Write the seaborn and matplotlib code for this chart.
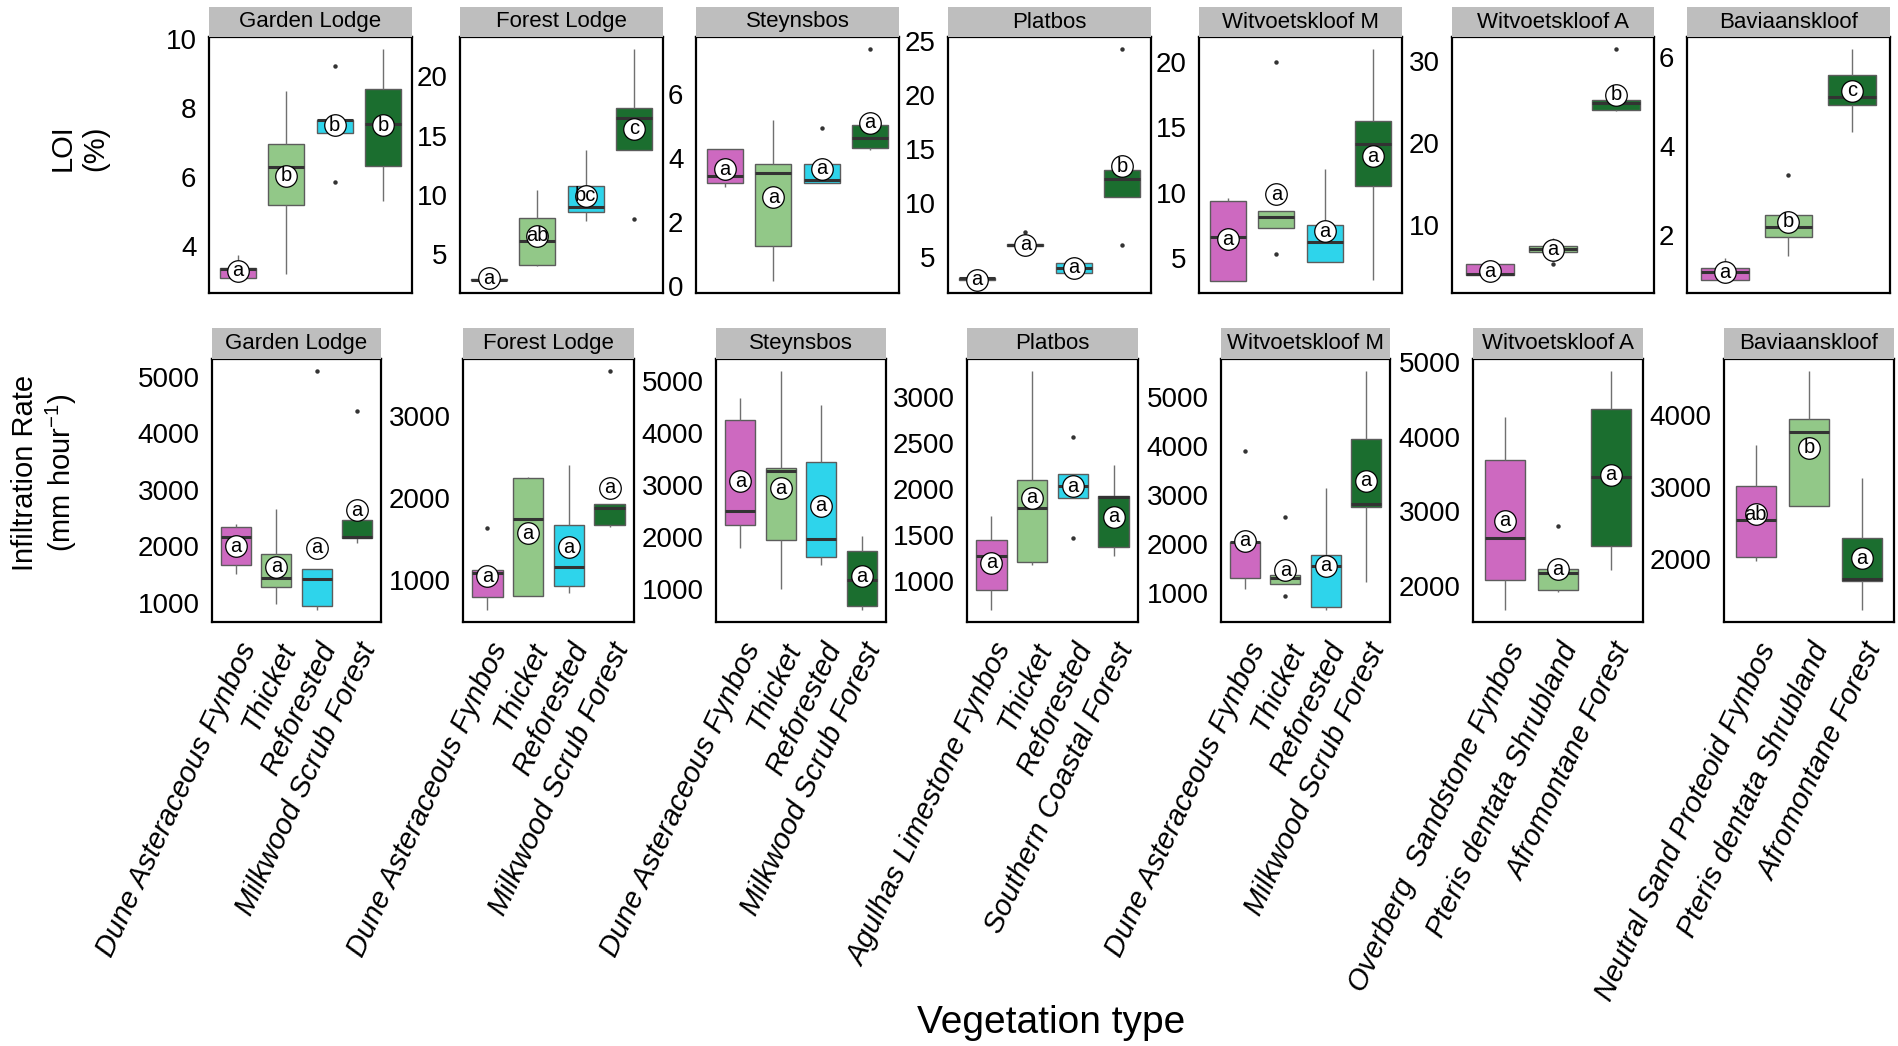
import matplotlib
matplotlib.use("Agg")
import matplotlib.pyplot as plt
from matplotlib.patches import Rectangle
from matplotlib.transforms import ScaledTranslation
import numpy as np
import pandas as pd
import seaborn as sns

# ---------------------------------------------------------------- data
SITES = ["Garden Lodge", "Forest Lodge", "Steynsbos", "Platbos",
         "Witvoetskloof M", "Witvoetskloof A", "Baviaanskloof"]

DUNE = ["Dune Asteraceous Fynbos", "Thicket", "Reforested", "Milkwood Scrub Forest"]
VEG = [
    DUNE,
    DUNE,
    DUNE,
    ["Agulhas Limestone Fynbos", "Thicket", "Reforested", "Southern Coastal Forest"],
    DUNE,
    ["Overberg  Sandstone Fynbos", "Pteris dentata Shrubland", "Afromontane Forest"],
    ["Neutral Sand Proteoid Fynbos", "Pteris dentata Shrubland", "Afromontane Forest"],
]

# five-number summaries per box: [lower whisker, Q1, median, Q3, upper whisker]
LOI_BOX = [
    [[2.98, 3.07, 3.34, 3.36, 3.75], [3.19, 5.20, 6.29, 6.94, 8.48],
     [7.25, 7.27, 7.64, 7.66, 7.70], [5.31, 6.32, 7.53, 8.53, 9.71]],
    [[2.72, 2.80, 2.86, 2.92, 3.05], [4.00, 4.06, 6.13, 8.07, 10.45],
     [7.84, 8.60, 9.02, 10.73, 13.81], [13.81, 13.81, 16.50, 17.37, 22.35]],
    [[3.10, 3.23, 3.45, 4.27, 4.27], [0.15, 1.25, 3.53, 3.82, 5.20],
     [3.21, 3.21, 3.32, 3.83, 3.83], [4.25, 4.31, 4.62, 5.04, 5.04]],
    [[2.70, 2.85, 2.97, 3.05, 3.20], [5.95, 6.00, 6.11, 6.20, 6.30],
     [3.46, 3.46, 3.98, 4.38, 4.38], [10.55, 10.55, 12.21, 13.07, 13.07]],
    [[3.19, 3.19, 6.56, 9.36, 9.57], [7.32, 7.32, 8.11, 8.57, 8.57],
     [4.69, 4.69, 6.22, 7.55, 11.81], [3.27, 10.54, 13.70, 15.48, 21.05]],
    [[3.07, 3.81, 4.01, 5.22, 5.22], [6.64, 6.64, 7.04, 7.45, 8.38],
     [23.85, 23.97, 24.82, 25.18, 25.18]],
    [[0.97, 1.01, 1.17, 1.26, 1.49], [1.54, 1.97, 2.19, 2.46, 2.46],
     [4.32, 4.92, 5.10, 5.59, 6.19]],
]
LOI_OUT = [
    [[], [], [9.21, 5.85], []],
    [[], [], [], [7.96]],
    [[], [], [4.94], [7.42]],
    [[], [7.25], [], [24.29, 6.11]],
    [[], [20.0, 5.28], [], []],
    [[], [5.22], [31.5]],
    [[], [3.35], []],
]
LOI_LETTERS = [["a", "b", "b", "b"], ["a", "ab", "bc", "c"], ["a", "a", "a", "a"],
               ["a", "a", "a", "b"], ["a", "a", "a", "a"], ["a", "a", "b"], ["a", "b", "c"]]
LOI_MEAN = [
    [3.28, 6.04, 7.49, 7.49],
    [3.00, 6.58, 9.94, 15.6],
    [3.65, 2.77, 3.67, 5.10],
    [2.87, 6.11, 3.98, 13.38],
    [6.43, 9.87, 7.04, 12.78],
    [4.33, 6.92, 25.87],
    [1.18, 2.31, 5.24],
]
LOI_TICKS = [[4, 6, 8, 10], [5, 10, 15, 20], [0, 2, 4, 6], [5, 10, 15, 20, 25],
             [5, 10, 15, 20], [10, 20, 30], [2, 4, 6]]

INF_BOX = [
    [[1502, 1668, 2170, 2341, 2389], [971, 1284, 1443, 1863, 2654],
     [870, 947, 1426, 1591, 1591], [2052, 2152, 2170, 2460, 2460]],
    [[635, 789, 1085, 1122, 1122], [809, 809, 1746, 2241, 2262],
     [842, 931, 1162, 1673, 2400], [1641, 1669, 1876, 1929, 1929]],
    [[1781, 2235, 2491, 4245, 4661], [1000, 1941, 3272, 3323, 5186],
     [1467, 1608, 1966, 3438, 4539], [597, 680, 1173, 1736, 2011]],
    [[681, 899, 1268, 1449, 1707], [1170, 1203, 1797, 2101, 3286],
     [1906, 1906, 2029, 2159, 2159], [1268, 1370, 1915, 1924, 2261]],
    [[1082, 1307, 2056, 2056, 2056], [1184, 1184, 1320, 1368, 1368],
     [660, 728, 1559, 1777, 3140], [1239, 2765, 2833, 4148, 5538]],
    [[1677, 2083, 2636, 3683, 4267], [1914, 1945, 2168, 2226, 2226],
     [2212, 2538, 3452, 4374, 4878]],
    [[1972, 2028, 2548, 3018, 3585], [2733, 2733, 3765, 3949, 4608],
     [1300, 1705, 1724, 2290, 3124]],
]
INF_OUT = [
    [[], [], [5100], [4397]],
    [[1637], [], [], [3548]],
    [[], [], [], []],
    [[], [], [2569, 1471], []],
    [[3910], [2561, 946], [], []],
    [[], [2801], []],
    [[], [], []],
]
INF_LETTERS = [["a", "a", "a", "a"], ["a", "a", "a", "a"], ["a", "a", "a", "a"],
               ["a", "a", "a", "a"], ["a", "a", "a", "a"], ["a", "a", "a"], ["ab", "b", "a"]]
INF_MEAN = [
    [1999, 1632, 1975, 2637],
    [1045, 1568, 1398, 2128],
    [3067, 2933, 2600, 1243],
    [1196, 1902, 2029, 1696],
    [2070, 1470, 1559, 3297],
    [2872, 2226, 3487],
    [2627, 3548, 2018],
]
INF_TICKS = [[1000, 2000, 3000, 4000, 5000], [1000, 2000, 3000],
             [1000, 2000, 3000, 4000, 5000], [1000, 1500, 2000, 2500, 3000],
             [1000, 2000, 3000, 4000, 5000], [2000, 3000, 4000, 5000],
             [2000, 3000, 4000]]

PINK, LIGHT, CYAN, DARK = "#CD69C0", "#92C888", "#2ED4EB", "#1B6E2F"
COLORS4 = [PINK, LIGHT, CYAN, DARK]
COLORS3 = [PINK, LIGHT, DARK]

# ---------------------------------------------------------------- style
sns.set_style("white")
plt.rcParams["font.family"] = ["Liberation Sans", "DejaVu Sans"]
plt.rcParams["mathtext.fontset"] = "custom"
plt.rcParams["mathtext.rm"] = "Liberation Sans"
plt.rcParams["mathtext.default"] = "regular"
for key in ["text.color", "axes.labelcolor", "xtick.color", "ytick.color"]:
    plt.rcParams[key] = "black"

W, H = 1899, 1046
fig = plt.figure(figsize=(W / 100, H / 100), dpi=100)

TOP_X = [(209, 412), (460, 663), (696, 899), (948, 1151), (1199, 1402), (1452, 1654), (1687, 1890)]
BOT_X = [(212, 381), (463, 634), (716, 886), (967, 1138), (1221, 1390), (1473, 1643), (1724, 1894)]
ROWS = [
    dict(xs=TOP_X, top=37, bottom=293, strip=30, box=LOI_BOX, out=LOI_OUT,
         letters=LOI_LETTERS, mean=LOI_MEAN, ticks=LOI_TICKS, xlabels=False),
    dict(xs=BOT_X, top=359, bottom=622, strip=31, box=INF_BOX, out=INF_OUT,
         letters=INF_LETTERS, mean=INF_MEAN, ticks=INF_TICKS, xlabels=True),
]


def panel(row, i):
    left, right = row["xs"][i]
    top, bottom = row["top"], row["bottom"]
    ax = fig.add_axes([left / W, 1 - bottom / H, (right - left) / W, (bottom - top) / H])
    cats = VEG[i]
    cols = COLORS4 if len(cats) == 4 else COLORS3
    pal = dict(zip(cats, cols))

    box_df = pd.DataFrame(
        [(c, v) for c, vals in zip(cats, row["box"][i]) for v in vals],
        columns=["veg", "value"])
    sns.boxplot(data=box_df, x="veg", y="value", order=cats, hue="veg", hue_order=cats,
                palette=pal, saturation=1, width=0.75, whis=(0, 100), showfliers=False,
                showcaps=False, linewidth=1.0, linecolor="#5c5c5c",
                whiskerprops={"color": "#707070", "linewidth": 1.0},
                medianprops={"color": "#333333", "linewidth": 2.2},
                legend=False, ax=ax)

    out_df = pd.DataFrame(
        [(c, v) for c, vals in zip(cats, row["out"][i]) for v in vals],
        columns=["veg", "value"])
    if len(out_df):
        sns.stripplot(data=out_df, x="veg", y="value", order=cats, jitter=False,
                      color="#333333", size=3.2, linewidth=0, legend=False, ax=ax)

    lab_df = pd.DataFrame({"veg": cats, "value": row["mean"][i]})
    sns.stripplot(data=lab_df, x="veg", y="value", order=cats, jitter=False,
                  color="white", size=15.5, linewidth=0.9, edgecolor="black",
                  legend=False, ax=ax, zorder=6)
    for k, (txt, yv) in enumerate(zip(row["letters"][i], row["mean"][i])):
        ax.text(k, yv, txt, ha="center", va="center", fontsize=14.5, zorder=7)

    # data range with 5% padding
    vals = [v for b in row["box"][i] for v in b] + [v for o in row["out"][i] for v in o]
    lo, hi = min(vals), max(vals)
    pad = 0.05 * (hi - lo)
    ax.set_ylim(lo - pad, hi + pad)
    ax.set_xlim(-0.6, len(cats) - 0.4)
    ax.set_yticks(row["ticks"][i])
    ax.set_yticklabels([str(t) for t in row["ticks"][i]])
    ax.set_xlabel("")
    ax.set_ylabel("")
    ax.set_xticks(range(len(cats)))
    if row["xlabels"]:
        labels = ax.set_xticklabels(cats, rotation=65, ha="right", va="top",
                                    rotation_mode="anchor", fontstyle="italic", fontsize=21)
        shift = ScaledTranslation(4 / 72, 0, fig.dpi_scale_trans)
        for lab in labels:
            lab.set_transform(lab.get_transform() + shift)
    else:
        ax.set_xticklabels([])
    ax.tick_params(axis="both", direction="in", length=5, width=1.1, color="black")
    ax.tick_params(axis="y", labelsize=20, pad=9)
    ax.tick_params(axis="x", pad=12)
    for s in ax.spines.values():
        s.set_visible(True)
        s.set_color("black")
        s.set_linewidth(1.6)

    # grey title strip above the panel
    h_ax = bottom - top
    ax.add_patch(Rectangle((0, 1), 1, row["strip"] / h_ax, transform=ax.transAxes,
                           facecolor="#BEBEBE", edgecolor="none", clip_on=False, zorder=3))
    ax.text(0.5, 1 + row["strip"] / h_ax / 2, SITES[i], transform=ax.transAxes,
            ha="center", va="center", fontsize=16, color="black", zorder=4)
    return ax


for row in ROWS:
    for i in range(len(SITES)):
        panel(row, i)

fig.text(79 / W, 1 - 148 / H, "LOI\n(%)", rotation=90, ha="center", va="center",
         fontsize=21, multialignment="center")
fig.text(45 / W, 1 - 473 / H, "Infiltration Rate\n(mm hour$^{-1}$)", rotation=90,
         ha="center", va="center", fontsize=21, multialignment="center")
fig.text(1051 / W, 1 - 1023 / H, "Vegetation type", ha="center", va="center", fontsize=28)

fig.savefig("out.png", dpi=100)
